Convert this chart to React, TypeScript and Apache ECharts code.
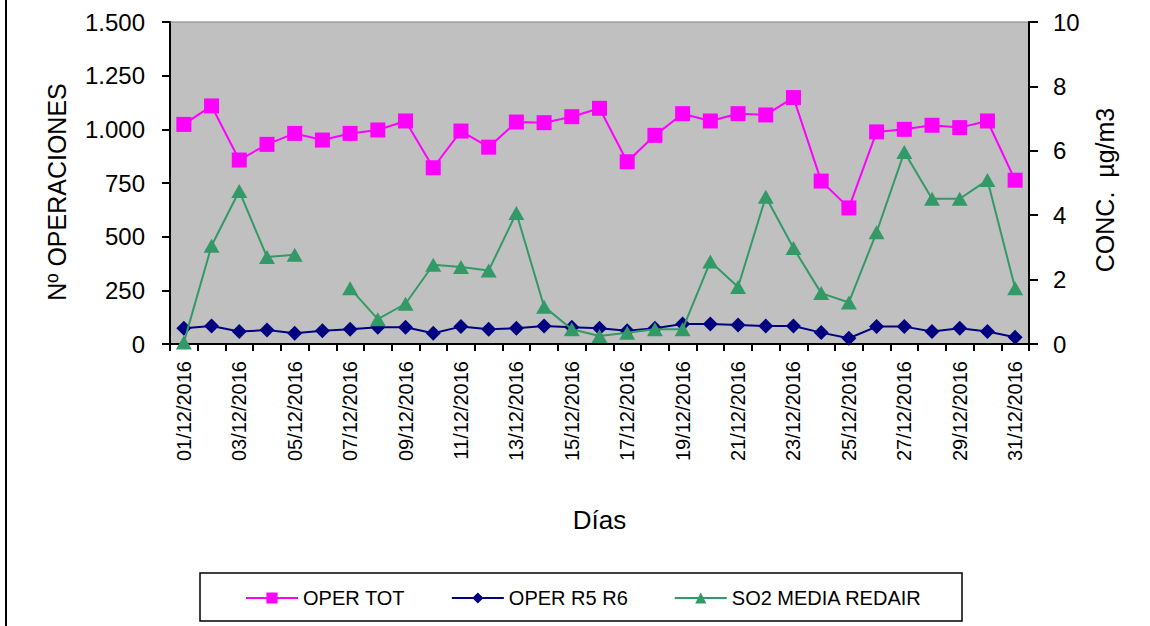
import React, { useEffect, useRef } from "react";
import * as echarts from "echarts";

const days = [
  "01/12/2016", "02/12/2016", "03/12/2016", "04/12/2016", "05/12/2016", "06/12/2016",
  "07/12/2016", "08/12/2016", "09/12/2016", "10/12/2016", "11/12/2016", "12/12/2016",
  "13/12/2016", "14/12/2016", "15/12/2016", "16/12/2016", "17/12/2016", "18/12/2016",
  "19/12/2016", "20/12/2016", "21/12/2016", "22/12/2016", "23/12/2016", "24/12/2016",
  "25/12/2016", "26/12/2016", "27/12/2016", "28/12/2016", "29/12/2016", "30/12/2016",
  "31/12/2016",
];

const operTot = [
  1023, 1109, 857, 930, 981, 950, 981, 997, 1039, 821, 992, 917, 1034, 1031, 1059, 1098,
  849, 972, 1073, 1039, 1073, 1067, 1148, 759, 634, 988, 1000, 1019, 1008, 1039, 763,
];

const operR5R6 = [
  73, 84, 58, 65, 50, 62, 69, 78, 78, 50, 81, 69, 73, 84, 78, 73,
  62, 73, 93, 93, 89, 84, 84, 53, 27, 81, 81, 58, 73, 58, 31,
];

const so2 = [
  0.05, 3.05, 4.75, 2.7, 2.77, null, 1.73, 0.77, 1.25, 2.46, 2.39, 2.28, 4.07, 1.16, 0.46, 0.25,
  0.35, 0.46, 0.46, 2.56, 1.77, 4.57, 2.98, 1.58, 1.29, 3.47, 5.96, 4.51, 4.51, 5.09, 1.73,
];

const FONT = "Liberation Sans, Arial, sans-serif";

export default function App() {
  const ref = useRef<HTMLDivElement>(null);
  useEffect(() => {
    if (!ref.current) return;
    const chart = echarts.init(ref.current, null, { renderer: "svg" });
    chart.setOption({
      animation: false,
      backgroundColor: "#ffffff",
      textStyle: { fontFamily: FONT },
      grid: {
        left: 170,
        right: 121,
        top: 22,
        bottom: 282,
        show: true,
        backgroundColor: "#c0c0c0",
        borderColor: "#808080",
        borderWidth: 1,
      },
      legend: {
        left: 245,
        top: 588,
        padding: 0,
        itemWidth: 52,
        itemHeight: 14,
        itemGap: 46,
        textStyle: { fontSize: 20, color: "#000", fontFamily: FONT },
        data: ["OPER TOT", "OPER R5 R6", "SO2 MEDIA REDAIR"],
      },
      xAxis: {
        type: "category",
        data: days,
        boundaryGap: true,
        name: "Días",
        nameLocation: "middle",
        nameGap: 163,
        nameTextStyle: { fontSize: 26, color: "#000", fontFamily: FONT },
        axisLine: { lineStyle: { color: "#000", width: 2 } },
        axisTick: { show: true, interval: 0, length: 7, lineStyle: { color: "#000", width: 2 } },
        axisLabel: {
          interval: 1,
          rotate: 90,
          margin: 17,
          fontSize: 20,
          color: "#000",
          fontFamily: FONT,
        },
        splitLine: { show: false },
      },
      yAxis: [
        {
          type: "value",
          min: 0,
          max: 1500,
          interval: 250,
          name: "Nº OPERACIONES",
          nameLocation: "middle",
          nameGap: 101,
          nameTextStyle: { fontSize: 25, color: "#000", fontFamily: FONT, padding: [0, 18, 0, 0] },
          axisLine: { show: true, lineStyle: { color: "#000", width: 2 } },
          axisTick: { show: true, length: 8, lineStyle: { color: "#000", width: 2 } },
          axisLabel: {
            margin: 25,
            fontSize: 24,
            color: "#000",
            fontFamily: FONT,
            formatter: (v: number) =>
              String(v).replace(/\B(?=(\d{3})+(?!\d))/g, "."),
          },
          splitLine: { show: false },
        },
        {
          type: "value",
          min: 0,
          max: 10,
          interval: 2,
          position: "right",
          name: "CONC.  µg/m3",
          nameLocation: "middle",
          nameGap: 63,
          nameTextStyle: { fontSize: 25, color: "#000", fontFamily: FONT, padding: [0, 14, 0, 0] },
          axisLine: { show: true, lineStyle: { color: "#000", width: 2 } },
          axisTick: { show: true, length: 9, lineStyle: { color: "#000", width: 2 } },
          axisLabel: { margin: 24, fontSize: 24, color: "#000", fontFamily: FONT },
          splitLine: { show: false },
        },
      ],
      series: [
        {
          name: "OPER TOT",
          type: "line",
          yAxisIndex: 0,
          data: operTot,
          symbol: "rect",
          symbolSize: 15,
          lineStyle: { color: "#ff00ff", width: 2 },
          itemStyle: { color: "#ff00ff" },
          z: 3,
        },
        {
          name: "OPER R5 R6",
          type: "line",
          yAxisIndex: 0,
          data: operR5R6,
          symbol: "diamond",
          symbolSize: [15, 15],
          lineStyle: { color: "#000080", width: 2 },
          itemStyle: { color: "#000080" },
          z: 4,
        },
        {
          name: "SO2 MEDIA REDAIR",
          type: "line",
          yAxisIndex: 1,
          data: so2,
          connectNulls: false,
          symbol: "triangle",
          symbolSize: [16, 14],
          lineStyle: { color: "#339966", width: 2 },
          itemStyle: { color: "#339966" },
          z: 5,
        },
      ],
      graphic: [
        {
          type: "line",
          shape: { x1: 6, y1: 0, x2: 6, y2: 626 },
          style: { stroke: "#000", lineWidth: 2 },
        },
        {
          type: "rect",
          shape: { x: 200, y: 573, width: 762, height: 48 },
          style: { fill: "none", stroke: "#000", lineWidth: 1.5 },
        },
      ],
    });
    return () => chart.dispose();
  }, []);
  return <div ref={ref} style={{ width: 1150, height: 626, position: "absolute", left: 0, top: 0 }} />;
}
